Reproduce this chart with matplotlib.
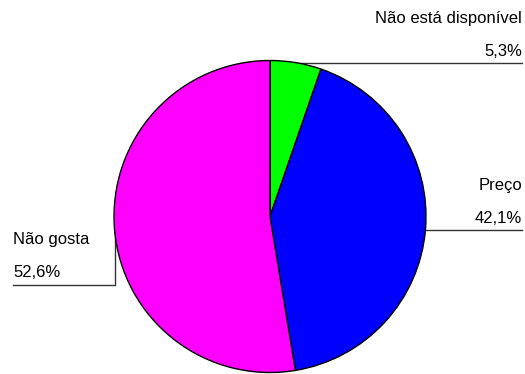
import numpy as np
import matplotlib
matplotlib.use("Agg")
import matplotlib.pyplot as plt

labels = ["Não está disponível", "Preço", "Não gosta"]
values = [5.3, 42.1, 52.6]
colors = ["#00FF00", "#0000FF", "#FF00FF"]

W, H = 525, 374
fig = plt.figure(figsize=(W / 100, H / 100), dpi=100)
ax = fig.add_axes([0, 0, 1, 1])

cx, cy, r = 270, H - 216.5, 156
wedges, _ = ax.pie(values, colors=colors, startangle=90, counterclock=False,
                   center=(cx, cy), radius=r,
                   wedgeprops=dict(edgecolor="black", linewidth=1.0))
for w in wedges:
    w.set_zorder(3)

ax.set_xlim(0, W)
ax.set_ylim(0, H)
ax.set_aspect("auto")
ax.axis("off")

font = dict(family="Liberation Sans", fontsize=12, color="black")
line_kw = dict(color="#333333", linewidth=1.0, zorder=1)

def mid_point(w):
    ang = np.deg2rad((w.theta1 + w.theta2) / 2)
    return cx + r * np.cos(ang), cy + r * np.sin(ang)

# Right-hand labels: horizontal leader from wedge middle to the right margin
x_right = 522
for i in (0, 1):
    mx, my = mid_point(wedges[i])
    ax.plot([mx, x_right], [my, my], **line_kw)
    ax.text(x_right, my + 7, f"{values[i]:.1f}%".replace(".", ","),
            ha="right", va="baseline", **font)
    ax.text(x_right, my + 40, labels[i], ha="right", va="baseline", **font)

# Left-hand label: leader goes down, then left
mx, my = mid_point(wedges[2])
y_elbow = H - 285
x_left = 13
ax.plot([mx, mx, x_left], [my, y_elbow, y_elbow], **line_kw)
ax.text(x_left, y_elbow + 8, f"{values[2]:.1f}%".replace(".", ","),
        ha="left", va="baseline", **font)
ax.text(x_left, y_elbow + 41, labels[2], ha="left", va="baseline", **font)

fig.savefig("out.png", dpi=100)
